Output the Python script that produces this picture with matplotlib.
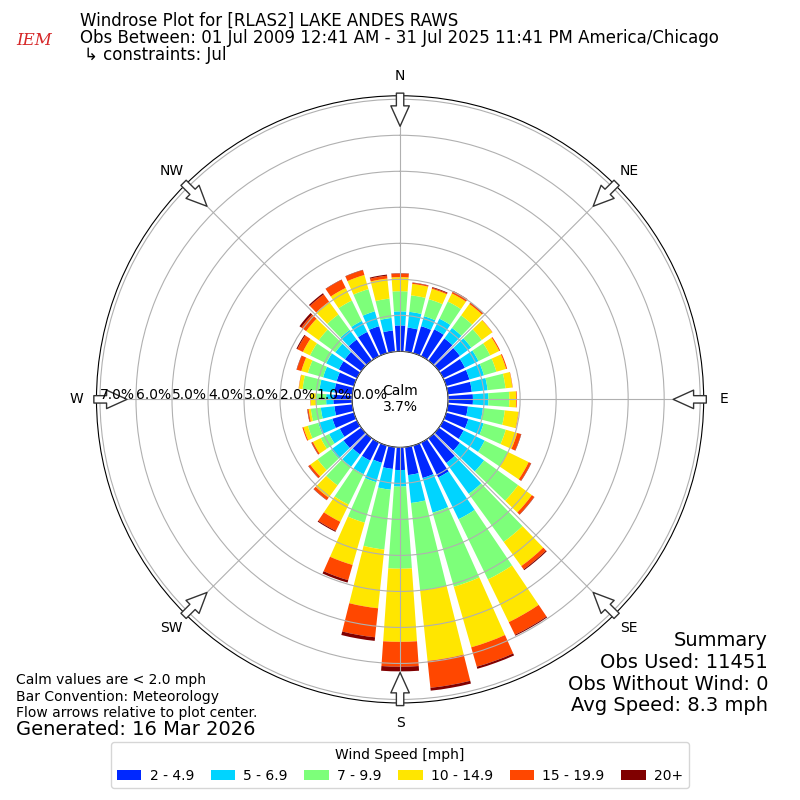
import matplotlib
matplotlib.use("Agg")
import matplotlib.pyplot as plt
import numpy as np

# wind direction bins (deg, where wind blows from) and speed bin labels
directions = list(range(0, 360, 10))
speed_labels = ["2 - 4.9", "5 - 6.9", "7 - 9.9", "10 - 14.9", "15 - 19.9", "20+"]
speed_colors = ["#0028ff", "#00d4ff", "#7dff7a", "#ffe600", "#ff4700", "#800000"]

# frequency [%] per direction for each speed bin
spd_2_5 = [0.72, 0.67, 0.78, 0.83, 0.76, 0.72, 0.67, 0.67, 0.67, 0.69, 0.56, 0.64,
           0.63, 0.72, 0.85, 1.08, 0.94, 0.78, 0.63, 0.61, 0.50, 0.56, 0.56, 0.61,
           0.53, 0.62, 0.50, 0.52, 0.50, 0.50, 0.56, 0.56, 0.72, 0.75, 0.78, 0.59]
spd_5_7 = [0.39, 0.44, 0.29, 0.33, 0.36, 0.39, 0.42, 0.42, 0.44, 0.43, 0.42, 0.44,
           0.65, 0.83, 1.06, 1.29, 1.00, 0.78, 0.46, 0.58, 0.56, 0.42, 0.42, 0.42,
           0.33, 0.41, 0.38, 0.20, 0.42, 0.39, 0.39, 0.33, 0.33, 0.34, 0.43, 0.35]
spd_7_10 = [0.56, 0.46, 0.49, 0.53, 0.43, 0.36, 0.36, 0.36, 0.50, 0.58, 0.61, 0.64,
            0.72, 1.17, 1.65, 1.86, 2.14, 2.44, 2.28, 1.67, 1.17, 0.94, 0.64, 0.47,
            0.26, 0.30, 0.28, 0.28, 0.47, 0.44, 0.50, 0.57, 0.53, 0.63, 0.64, 0.54]
spd_10_15 = [0.39, 0.32, 0.30, 0.25, 0.39, 0.36, 0.28, 0.28, 0.19, 0.19, 0.38, 0.33,
             0.64, 0.47, 0.83, 1.32, 1.75, 1.97, 2.03, 1.64, 1.22, 0.53, 0.42, 0.25,
             0.24, 0.13, 0.06, 0.15, 0.10, 0.19, 0.22, 0.43, 0.44, 0.39, 0.41, 0.56]
spd_15_20 = [0.10, 0.03, 0.03, 0.07, 0.04, 0.01, 0.03, 0.03, 0.01, 0.02, 0.01, 0.11,
             0.07, 0.08, 0.11, 0.39, 0.56, 0.75, 0.69, 0.81, 0.44, 0.28, 0.08, 0.06,
             0.04, 0.03, 0.03, 0.01, 0.01, 0.13, 0.17, 0.17, 0.25, 0.25, 0.14, 0.08]
spd_20p = [0.01, 0.01, 0.02, 0.01, 0.01, 0.00, 0.00, 0.00, 0.00, 0.00, 0.00, 0.01,
           0.01, 0.01, 0.03, 0.03, 0.06, 0.08, 0.13, 0.10, 0.07, 0.03, 0.01, 0.01,
           0.01, 0.00, 0.01, 0.00, 0.00, 0.01, 0.03, 0.06, 0.04, 0.01, 0.01, 0.03]

calm_pct = 3.7
rticks = [0, 1, 2, 3, 4, 5, 6, 7]
compass = ["N", "NE", "E", "SE", "S", "SW", "W", "NW"]
compass_deg = [0, 45, 90, 135, 180, 225, 270, 315]

title_lines = [
    "Windrose Plot for [RLAS2] LAKE ANDES RAWS",
    "Obs Between: 01 Jul 2009 12:41 AM - 31 Jul 2025 11:41 PM America/Chicago",
    "\u21b3 constraints: Jul",
]
summary_lines = ["Summary", "Obs Used: 11451", "Obs Without Wind: 0", "Avg Speed: 8.3 mph"]
notes = ["Calm values are < 2.0 mph", "Bar Convention: Meteorology",
         "Flow arrows relative to plot center."]

fig = plt.figure(figsize=(8, 8), dpi=100)
ax = fig.add_axes([0.1206, 0.1213, 0.759, 0.759], projection="polar")
ax.set_theta_zero_location("N")
ax.set_theta_direction(-1)

theta = np.deg2rad(directions)
width = np.deg2rad(10) * 0.8
series = [spd_2_5, spd_5_7, spd_7_10, spd_10_15, spd_15_20, spd_20p]
bottom = np.zeros(len(directions))
handles = []
for vals, col, lab in zip(series, speed_colors, speed_labels):
    bars = ax.bar(theta, vals, width=width, bottom=bottom, color=col,
                  edgecolor="none", label=lab, zorder=2)
    handles.append(bars)
    bottom = bottom + np.array(vals)

ax.set_rorigin(-1.333)
ax.set_ylim(0, 7.097)
ax.set_yticks(rticks)
ax.set_yticklabels([])
ax.set_xticks(np.deg2rad(compass_deg))
ax.set_xticklabels([])
ax.set_axisbelow(False)
ax.grid(True, color="#b0b0b0", lw=0.8, zorder=3)
ax.spines["polar"].set_color("black")
ax.spines["inner"].set_color("black")

for v in rticks:
    ax.text(np.deg2rad(270), v, f"{v:.1f}%", ha="left", va="baseline",
            fontsize=10, zorder=6)

ax.text(0, -1.333, f"Calm\n{calm_pct}%", ha="center", va="center", fontsize=10,
        zorder=6)

for lab, deg in zip(compass, compass_deg):
    t = np.deg2rad(deg)
    ax.text(t, 7.65, lab, ha="center", va="center", fontsize=10)
    ax.annotate("", xy=(t, 6.25), xytext=(t, 7.17), xycoords="data",
                annotation_clip=False,
                arrowprops=dict(arrowstyle="simple,head_length=1.05,head_width=0.95,tail_width=0.38",
                                fc="white", ec="#333333", lw=1, shrinkA=0, shrinkB=0,
                                mutation_scale=14), zorder=5)

# header
fig.text(0.02, 1 - 45 / 800, "IEM", color="#d62728", fontsize=12, style="italic",
         family="DejaVu Serif")
base = [26, 43.3, 60]
xs = [0.1, 0.1, 0.105]
for txt, b, x in zip(title_lines, base, xs):
    fig.text(x, 1 - b / 800, txt, fontsize=12, va="baseline")

# footer notes
for txt, b in zip(notes, [684, 701, 717]):
    fig.text(0.02, 1 - b / 800, txt, fontsize=10, va="baseline")
fig.text(0.02, 1 - 735 / 800, "Generated: 16 Mar 2026", fontsize=14, va="baseline")

for txt, b in zip(summary_lines, [646, 668, 689.5, 711]):
    fig.text(0.96, 1 - b / 800, txt, fontsize=14, va="baseline", ha="right")

fig.legend(handles, speed_labels, loc="lower center", bbox_to_anchor=(0.5, 0.006),
           ncol=6, title="Wind Speed [mph]", fontsize=10, title_fontsize=10,
           handlelength=1.75, handletextpad=0.6, columnspacing=1.2)

fig.savefig("out.png", dpi=100)
